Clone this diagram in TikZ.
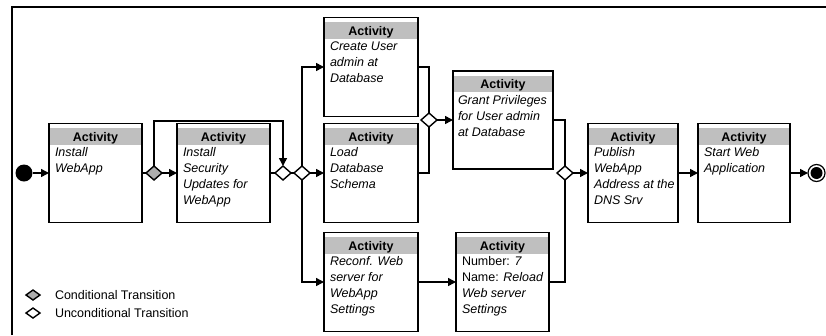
\documentclass[tikz,border=0pt]{standalone}
\usepackage{fontspec}
\setmainfont{Liberation Sans}
\usetikzlibrary{shapes.geometric,arrows.meta}

\definecolor{hdrgray}{gray}{0.75}
\definecolor{condgray}{gray}{0.68}
\newcommand\actfont{\fontsize{12.5}{16}\selectfont}
% text lines hanging from the baseline of their first line
\newcommand\actlines[1]{\begin{tabular}[t]{@{}l@{}}#1\end{tabular}}

\begin{document}
\begin{tikzpicture}[x=1pt,y=-1pt,
  every node/.style={inner sep=0pt, outer sep=0pt},
  actbox/.style={draw, line width=1.8pt, fill=white,
    minimum width=#1, minimum height=99pt,
    path picture={\fill[hdrgray]
      ([yshift=-4.5pt]path picture bounding box.north west) rectangle
      ([yshift=-21pt]path picture bounding box.north east);}},
  hdrtxt/.style={font=\actfont\bfseries, anchor=base},
  bodytxt/.style={font=\actfont\itshape, anchor=base west},
  gate/.style={diamond, draw, line width=1.4pt, fill=white,
    minimum width=16pt, minimum height=14pt},
  condgate/.style={gate, fill=condgray},
  legtxt/.style={font=\actfont, anchor=west},
  link/.style={line width=1.5pt},
  flow/.style={link, -{Triangle[length=8pt,width=8pt]}},
]
\useasboundingbox (0,0) rectangle (826,335);

% frame
\draw[line width=2pt] (12,335) |- (826,7);

% activities
\node[actbox=93pt]  (b1) at (95.5,173) {};
\node[actbox=93pt]  (b2) at (223.5,173) {};
\node[actbox=94pt]  (b3) at (371,67) {};
\node[actbox=94pt]  (b4) at (371,173) {};
\node[actbox=94pt]  (b5) at (371,282) {};
\node[actbox=93pt]  (b6) at (502.5,282) {};
\node[actbox=100pt,minimum height=98pt] (b7) at (503,120) {};
\node[actbox=90pt]  (b8) at (633,173) {};
\node[actbox=92pt]  (b9) at (744,173) {};

\foreach \b in {b1,b2,b3,b4,b5,b6,b7,b8,b9}
  \node[hdrtxt] (\b h) at ([yshift=-17.5pt]\b.north) {Activity};

\node[bodytxt] (b1t) at ([xshift=6pt,yshift=-33pt]b1.north west) {\actlines{Install\\WebApp}};
\node[bodytxt] (b2t) at ([xshift=6pt,yshift=-33pt]b2.north west) {\actlines{Install\\Security\\Updates for\\WebApp}};
\node[bodytxt] (b3t) at ([xshift=6pt,yshift=-33pt]b3.north west) {\actlines{Create User\\admin at\\Database}};
\node[bodytxt] (b4t) at ([xshift=6pt,yshift=-33pt]b4.north west) {\actlines{Load\\Database\\Schema}};
\node[bodytxt] (b5t) at ([xshift=6pt,yshift=-33pt]b5.north west) {\actlines{Reconf. Web\\server for\\WebApp\\Settings}};
\node[bodytxt] (b6t) at ([xshift=6pt,yshift=-33pt]b6.north west) {\actlines{\upshape Number: \itshape 7\\\upshape Name: \itshape Reload\\Web server\\Settings}};
\node[bodytxt] (b7t) at ([xshift=5pt,yshift=-33pt]b7.north west) {\actlines{Grant Privileges\\for User admin\\at Database}};
\node[bodytxt] (b8t) at ([xshift=6pt,yshift=-33pt]b8.north west) {\actlines{Publish\\WebApp\\Address at the\\DNS Srv}};
\node[bodytxt] (b9t) at ([xshift=6pt,yshift=-33pt]b9.north west) {\actlines{Start Web\\Application}};

% start and end
\node[circle, fill=black, minimum size=17pt] (start) at (24,173) {};
\node[circle, draw, line width=1.2pt, fill=white, minimum size=17pt] (end) at (816.5,173) {};
\node[circle, fill=black, minimum size=12pt] (endc) at (end.center) {};

% transitions
\node[condgate] (d1) at (154,173) {};
\node[gate] (d2) at (283,173) {};
\node[gate] (d3) at (302,173) {};
\node[gate] (d4) at (429,120) {};
\node[gate] (d5) at (565,173) {};
\coordinate (lp) at (220,121);

% connectors
\draw[flow] (start) -- (b1);
\draw[link] (b1) -- (d1);
\draw[flow] (d1) -- (b2);
\draw[flow] (d1) |- (lp) -| (d2);
\draw[link] (b2) -- (d2);
\draw[link] (d2) -- (d3);
\draw[flow] (d3) |- (b3);
\draw[flow] (d3) -- (b4);
\draw[flow] (d3) |- (b5);
\draw[link] (b3) -| (d4);
\draw[link] (b4) -| (d4);
\draw[flow] (d4) -- (b7);
\draw[flow] (b5) -- (b6);
\draw[link] (b7) -| (d5);
\draw[link] (b6) -| (d5);
\draw[flow] (d5) -- (b8);
\draw[flow] (b8) -- (b9);
\draw[flow] (b9) -- (end);

% legend
\node[condgate, minimum width=14pt, minimum height=10pt] (lg1) at (33,295) {};
\node[legtxt] (lt1) at (55,295) {Conditional Transition};
\node[gate, minimum width=14pt, minimum height=10pt] (lg2) at (33,313) {};
\node[legtxt] (lt2) at (55,313) {Unconditional Transition};
\end{tikzpicture}
\end{document}
